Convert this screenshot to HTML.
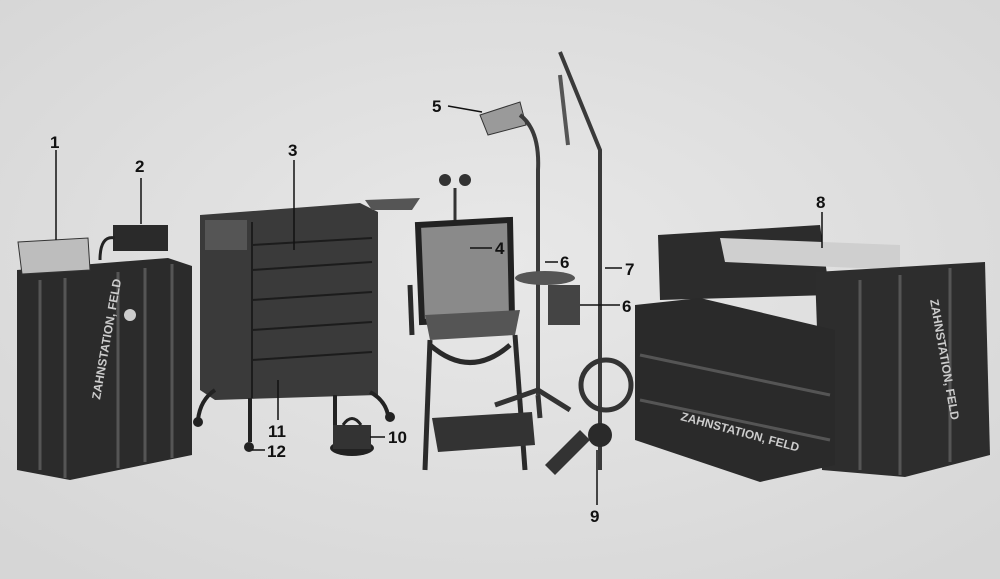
<!DOCTYPE html>
<html><head><meta charset="utf-8"><style>
html,body{margin:0;padding:0;background:#e2e2e2;}
svg{display:block}
text{font-family:"Liberation Sans",sans-serif;font-weight:bold;font-size:17px;fill:#111}
</style></head><body>
<svg width="1000" height="579" viewBox="0 0 1000 579">
<defs>
<radialGradient id="bg" cx="50%" cy="45%" r="70%"><stop offset="0" stop-color="#e8e8e8"/><stop offset="1" stop-color="#d6d6d6"/></radialGradient>
</defs>
<rect width="1000" height="579" fill="url(#bg)"/>
<!-- crate 1 -->
<polygon points="17,270 168,258 192,266 192,455 70,480 17,470" fill="#2b2b2b"/>
<g stroke="#555" stroke-width="3">
<line x1="40" y1="280" x2="40" y2="470"/><line x1="65" y1="278" x2="65" y2="478"/><line x1="118" y1="272" x2="118" y2="468"/><line x1="145" y1="268" x2="145" y2="462"/><line x1="172" y1="264" x2="172" y2="458"/>
</g>
<text x="100" y="400" transform="rotate(-80 100 400)" style="font-size:12px;fill:#ccc">ZAHNSTATION, FELD</text>
<circle cx="130" cy="315" r="6" fill="#ccc"/>
<polygon points="18,242 88,238 90,270 22,274" fill="#bdbdbd" stroke="#333"/>
<!-- device 2 -->
<rect x="113" y="225" width="55" height="26" fill="#2a2a2a"/>
<path d="M100,260 Q100,235 115,238" stroke="#222" stroke-width="3" fill="none"/>
<!-- cabinet 3 -->
<polygon points="200,215 360,203 378,212 378,395 215,400 200,390" fill="#3a3a3a"/>
<g stroke="#1c1c1c" stroke-width="2"><line x1="252" y1="245" x2="372" y2="238"/><line x1="252" y1="270" x2="372" y2="262"/><line x1="252" y1="300" x2="372" y2="292"/><line x1="252" y1="330" x2="372" y2="322"/><line x1="252" y1="360" x2="372" y2="352"/><line x1="252" y1="222" x2="252" y2="398"/></g>
<rect x="205" y="220" width="42" height="30" fill="#555"/>
<g stroke="#222" stroke-width="4" fill="none"><path d="M215,390 Q200,400 198,420"/><path d="M250,398 L250,442"/><path d="M370,392 Q385,400 388,415"/><path d="M335,395 L335,425"/></g>
<circle cx="249" cy="447" r="5" fill="#222"/><circle cx="198" cy="422" r="5" fill="#222"/><circle cx="390" cy="417" r="5" fill="#222"/>
<polygon points="365,200 420,198 412,210 372,210" fill="#555"/>
<!-- item 10 -->
<ellipse cx="352" cy="448" rx="22" ry="8" fill="#222"/><rect x="333" y="425" width="38" height="24" fill="#333"/><path d="M343,425 Q352,412 361,425" stroke="#222" stroke-width="3" fill="none"/>
<!-- chair 4 -->
<circle cx="445" cy="180" r="6" fill="#333"/><circle cx="465" cy="180" r="6" fill="#333"/><line x1="455" y1="188" x2="455" y2="220" stroke="#333" stroke-width="3"/>
<polygon points="418,225 510,220 512,318 422,322" fill="#8a8a8a" stroke="#222" stroke-width="6"/>
<polygon points="425,315 520,310 515,335 430,340" fill="#555"/>
<g stroke="#2a2a2a" stroke-width="5" fill="none"><path d="M430,340 L425,470"/><path d="M515,335 L525,470"/><path d="M410,285 L412,335"/><path d="M430,345 Q470,380 510,345"/></g>
<polygon points="432,418 532,412 535,445 438,452" fill="#333"/>
<!-- lamp 5 -->
<polygon points="480,115 520,102 526,125 488,135" fill="#9a9a9a" stroke="#333"/>
<path d="M520,115 Q540,130 538,170 L538,395" stroke="#3a3a3a" stroke-width="4" fill="none"/>
<path d="M495,405 L538,390 L570,410 M538,395 L540,418" stroke="#333" stroke-width="5" fill="none"/>
<!-- 6 cups -->
<rect x="548" y="285" width="32" height="40" fill="#444"/><ellipse cx="545" cy="278" rx="30" ry="7" fill="#555"/>
<!-- stand 7 -->
<path d="M560,52 L600,150 L600,470" stroke="#3a3a3a" stroke-width="4" fill="none"/>
<line x1="560" y1="75" x2="568" y2="145" stroke="#555" stroke-width="4"/>
<circle cx="606" cy="385" r="25" fill="none" stroke="#333" stroke-width="5"/>
<circle cx="600" cy="435" r="12" fill="#2a2a2a"/>
<polygon points="545,465 580,430 590,440 555,475" fill="#333"/>
<!-- crates 8 -->
<polygon points="658,235 820,225 830,295 660,300" fill="#2c2c2c"/>
<polygon points="720,238 900,245 900,270 725,262" fill="#cfcfcf"/>
<polygon points="815,272 985,262 990,455 905,477 822,470" fill="#2d2d2d"/>
<polygon points="635,305 700,298 835,330 835,465 760,482 635,440" fill="#2a2a2a"/>
<g stroke="#555" stroke-width="3"><line x1="640" y1="355" x2="830" y2="395"/><line x1="640" y1="400" x2="830" y2="440"/><line x1="860" y1="280" x2="860" y2="470"/><line x1="900" y1="275" x2="900" y2="475"/><line x1="950" y1="268" x2="950" y2="462"/></g>
<text x="680" y="420" transform="rotate(15 680 420)" style="font-size:12px;fill:#ccc">ZAHNSTATION, FELD</text>
<text x="930" y="300" transform="rotate(80 930 300)" style="font-size:12px;fill:#ccc">ZAHNSTATION, FELD</text>
<!-- labels -->
<g stroke="#111" stroke-width="1.5">
<line x1="56" y1="150" x2="56" y2="240"/><line x1="141" y1="178" x2="141" y2="224"/><line x1="294" y1="160" x2="294" y2="250"/>
<line x1="448" y1="106" x2="482" y2="112"/><line x1="470" y1="248" x2="492" y2="248"/><line x1="545" y1="262" x2="558" y2="262"/>
<line x1="580" y1="305" x2="620" y2="305"/><line x1="605" y1="268" x2="622" y2="268"/><line x1="822" y1="212" x2="822" y2="248"/>
<line x1="597" y1="450" x2="597" y2="505"/><line x1="370" y1="437" x2="385" y2="437"/><line x1="278" y1="380" x2="278" y2="420"/>
<line x1="252" y1="450" x2="265" y2="450"/>
</g>
<text x="50" y="148">1</text><text x="135" y="172">2</text><text x="288" y="156">3</text>
<text x="495" y="254">4</text><text x="432" y="112">5</text><text x="560" y="268">6</text>
<text x="622" y="312">6</text><text x="625" y="275">7</text><text x="816" y="208">8</text>
<text x="590" y="522">9</text><text x="388" y="443">10</text><text x="268" y="437">11</text><text x="267" y="457">12</text>
</svg>
</body></html>
